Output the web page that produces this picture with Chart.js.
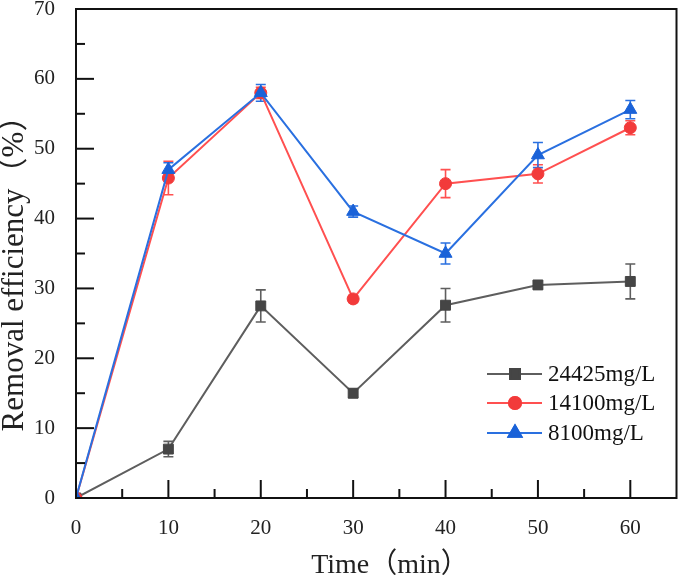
<!DOCTYPE html>
<html>
<head>
<meta charset="utf-8">
<script src="https://cdn.jsdelivr.net/npm/chart.js@4.4.1/dist/chart.umd.min.js"></script>
<style>
  body { margin: 0; background: #fff; }
  #wrap { width: 685px; height: 580px; }
</style>
</head>
<body>
<div id="wrap"><canvas id="grafico" width="685" height="580"></canvas></div>
<script>
// tiempos (min) y eficiencias (%)
const tiempos = [0, 10, 20, 30, 40, 50, 60]
const etiquetas = ['24425mg/L', '14100mg/L', '8100mg/L']

const ef24425 = [0, 7, 27.5, 15, 27.6, 30.5, 31]
const err24425 = [0, 1.1, 2.3, 0.6, 2.4, 0.5, 2.5]

const ef14100 = [0, 45.8, 58, 28.5, 45, 46.4, 53]
const err14100 = [0, 2.4, 0.8, 0.5, 2, 1.3, 1]

const ef8100 = [0, 47, 58, 41, 35, 49.1, 55.6]
const err8100 = [0, 1, 1.2, 0.8, 1.5, 1.8, 1.3]

const tituloY = 'Removal efficiency（%）'
const tituloX = 'Time（min）'

const fuente = "'Liberation Serif', 'Times New Roman', 'Noto Sans CJK SC', serif"

const toPoints = (vals) => tiempos.map((t, i) => ({ x: t, y: vals[i] }))

const serie = (label, vals, errs, linea, marca, estilo, radio, orden) => ({
  label: label,
  data: toPoints(vals),
  errores: errs,
  borderColor: linea,
  borderWidth: 2,
  backgroundColor: marca,
  pointBackgroundColor: marca,
  pointBorderColor: marca,
  pointBorderWidth: 1,
  pointStyle: estilo,
  pointRadius: radio,
  tension: 0,
  order: orden,
})

// barras de error, dibujadas antes de las series
const barrasError = {
  id: 'barrasError',
  beforeDatasetsDraw(chart) {
    const ctx = chart.ctx
    const y = chart.scales.y
    chart.data.datasets.forEach((ds, i) => {
      const meta = chart.getDatasetMeta(i)
      ctx.save()
      ctx.strokeStyle = ds.borderColor
      ctx.lineWidth = 1.6
      meta.data.forEach((pt, j) => {
        const e = ds.errores[j]
        if (!e) return
        const v = ds.data[j].y
        const y1 = y.getPixelForValue(v + e)
        const y2 = y.getPixelForValue(v - e)
        ctx.beginPath()
        ctx.moveTo(pt.x, y1); ctx.lineTo(pt.x, y2)
        ctx.moveTo(pt.x - 5, y1); ctx.lineTo(pt.x + 5, y1)
        ctx.moveTo(pt.x - 5, y2); ctx.lineTo(pt.x + 5, y2)
        ctx.stroke()
      })
      ctx.restore()
    })
  }
}

// marco y marcas de los ejes (hacia dentro)
const marco = {
  id: 'marco',
  afterDraw(chart) {
    const ctx = chart.ctx
    const a = chart.chartArea
    const sx = chart.scales.x
    const sy = chart.scales.y
    ctx.save()
    ctx.strokeStyle = '#111'
    ctx.lineWidth = 2
    sx.ticks.forEach(t => {
      if (t.value >= sx.max) return
      const px = sx.getPixelForValue(t.value)
      const len = t.value % 10 === 0 ? 18 : 9
      ctx.beginPath(); ctx.moveTo(px, a.bottom); ctx.lineTo(px, a.bottom - len); ctx.stroke()
    })
    sy.ticks.forEach(t => {
      const py = sy.getPixelForValue(t.value)
      const len = t.value % 10 === 0 ? 18 : 9
      ctx.beginPath(); ctx.moveTo(a.left, py); ctx.lineTo(a.left + len, py); ctx.stroke()
    })
    ctx.strokeRect(a.left, a.top, a.right - a.left, a.bottom - a.top)
    ctx.restore()

    // titulos de los ejes
    ctx.save()
    ctx.fillStyle = '#222'
    ctx.textAlign = 'center'
    ctx.textBaseline = 'middle'
    ctx.font = '28px ' + fuente
    ctx.fillText(tituloX, 390, 566)
    ctx.translate(15, 266)
    ctx.rotate(-Math.PI / 2)
    ctx.font = '31px ' + fuente
    ctx.fillText(tituloY, 0, 0)
    ctx.restore()

    // leyenda propia: linea con marcador
    const filas = [374, 403, 433]
    ctx.save()
    ctx.font = '23px ' + fuente
    ctx.textBaseline = 'middle'
    ctx.fillStyle = '#111'
    filas.forEach((fy, i) => {
      const ds = chart.data.datasets[i]
      ctx.strokeStyle = ds.borderColor
      ctx.lineWidth = 2
      ctx.beginPath(); ctx.moveTo(487, fy); ctx.lineTo(542, fy); ctx.stroke()
      Chart.helpers.drawPoint(ctx, {
        pointStyle: ds.pointStyle, radius: ds.pointRadius, borderWidth: 1, rotation: 0
      }, 515, fy)
      ctx.fillStyle = ds.pointBackgroundColor
      ctx.strokeStyle = ds.pointBorderColor
      ctx.fill(); ctx.stroke()
      ctx.fillStyle = '#111'
      ctx.fillText(ds.label, 548, fy + 1)
    })
    ctx.restore()
  }
}

const canvasContext = document.getElementById('grafico').getContext('2d')

new Chart(canvasContext, {
  type: 'line',
  data: {
    datasets: [
      serie(etiquetas[0], ef24425, err24425, '#5e5e5e', '#454545', 'rect', 7, 3),
      serie(etiquetas[1], ef14100, err14100, '#ff5050', '#f23a3a', 'circle', 6, 2),
      serie(etiquetas[2], ef8100, err8100, '#2a70e0', '#1a62d8', 'triangle', 7.5, 1),
    ],
  },
  options: {
    responsive: false,
    animation: false,
    layout: { padding: { top: 9, right: 4, left: 0, bottom: 0 } },
    plugins: {
      legend: { display: false },
      tooltip: { enabled: false },
    },
    scales: {
      x: {
        type: 'linear',
        min: 0,
        max: 65,
        grid: { display: false, drawTicks: false },
        border: { display: false },
        ticks: {
          stepSize: 5,
          autoSkip: false,
          maxRotation: 0,
          padding: 18,
          color: '#222',
          font: { family: fuente, size: 21 },
          callback: (v) => (v % 10 === 0 && v <= 60 ? v : ''),
        },
        afterFit: (s) => { s.height = 82; s.paddingLeft = 0; s.paddingRight = 0 },
      },
      y: {
        min: 0,
        max: 70,
        grid: { display: false, drawTicks: false },
        border: { display: false },
        ticks: {
          stepSize: 5,
          autoSkip: false,
          padding: 21,
          color: '#222',
          font: { family: fuente, size: 21 },
          callback: (v) => (v % 10 === 0 ? v : ''),
        },
        afterFit: (s) => { s.width = 76; s.paddingTop = 0; s.paddingBottom = 0 },
      },
    },
  },
  plugins: [barrasError, marco],
})
</script>
</body>
</html>
